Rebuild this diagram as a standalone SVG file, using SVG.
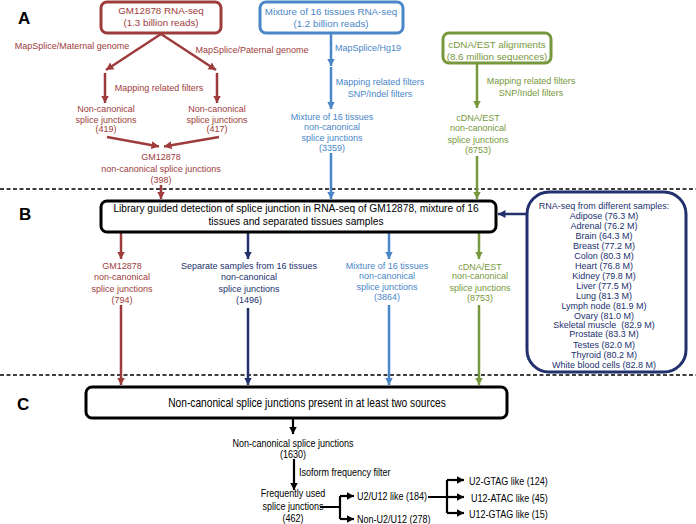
<svg xmlns="http://www.w3.org/2000/svg" width="696" height="524" viewBox="0 0 696 524">
<defs>
<style>
text{font-family:"Liberation Sans",Arial,sans-serif;}
.r{fill:#9e3c3c}.b{fill:#4a86c8}.g{fill:#77983c}.n{fill:#22306e}.k{fill:#000}
.t9{font-size:9px}.t10{font-size:9.8px}
.m{text-anchor:middle}
.lbl{font-size:17px;font-weight:bold;fill:#000}
.box{fill:#fff;stroke-width:3}
.cr{stroke:#9e3c3c;fill:none;stroke-width:2.5}
.cb{stroke:#4a86c8;fill:none;stroke-width:2.5}
.cg{stroke:#77983c;fill:none;stroke-width:2.5}
.cn{stroke:#22306e;fill:none;stroke-width:2.5}
.ck{stroke:#000;fill:none;stroke-width:2.2}
.dash{stroke:#000;stroke-width:1.4;stroke-dasharray:4 2.5;fill:none}
.cond{font-size:10.6px;fill:#000}
</style>
<marker id="ar" markerUnits="userSpaceOnUse" markerWidth="9" markerHeight="9" refX="7.5" refY="4.5" orient="auto"><path d="M0,0.5 L7.5,4.5 L0,8.5 z" fill="#9e3c3c"/></marker>
<marker id="ab" markerUnits="userSpaceOnUse" markerWidth="9" markerHeight="9" refX="7.5" refY="4.5" orient="auto"><path d="M0,0.5 L7.5,4.5 L0,8.5 z" fill="#4a86c8"/></marker>
<marker id="ag" markerUnits="userSpaceOnUse" markerWidth="9" markerHeight="9" refX="7.5" refY="4.5" orient="auto"><path d="M0,0.5 L7.5,4.5 L0,8.5 z" fill="#77983c"/></marker>
<marker id="an" markerUnits="userSpaceOnUse" markerWidth="9" markerHeight="9" refX="7.5" refY="4.5" orient="auto"><path d="M0,0.5 L7.5,4.5 L0,8.5 z" fill="#22306e"/></marker>
<marker id="ak" markerUnits="userSpaceOnUse" markerWidth="9" markerHeight="9" refX="7.5" refY="4.5" orient="auto"><path d="M0,0.5 L7.5,4.5 L0,8.5 z" fill="#000"/></marker>
</defs>
<rect width="696" height="524" fill="#fff"/>

<g id="separators">
<line class="dash" x1="0" y1="189" x2="696" y2="189"/>
<line class="dash" x1="0" y1="375" x2="696" y2="375"/>
</g>

<g id="section-labels">
<text class="lbl" x="18" y="24">A</text>
<text class="lbl" x="19" y="220">B</text>
<text class="lbl" x="17" y="410">C</text>
</g>

<g id="connectors">
<line class="cr" x1="161" y1="34" x2="106" y2="70" marker-end="url(#ar)"/>
<line class="cr" x1="161" y1="34" x2="216" y2="70" marker-end="url(#ar)"/>
<line class="cr" x1="105" y1="73" x2="105" y2="103" marker-end="url(#ar)"/>
<line class="cr" x1="217" y1="73" x2="217" y2="103" marker-end="url(#ar)"/>
<line class="cr" x1="107" y1="137" x2="159" y2="146.5" marker-end="url(#ar)"/>
<line class="cr" x1="219" y1="137" x2="164" y2="146.5" marker-end="url(#ar)"/>
<line class="cr" x1="161" y1="185" x2="161" y2="199" marker-end="url(#ar)"/>
<line class="cb" x1="331" y1="34" x2="331" y2="66" marker-end="url(#ab)"/>
<line class="cb" x1="331" y1="67" x2="331" y2="109" marker-end="url(#ab)"/>
<line class="cb" x1="331" y1="153" x2="331" y2="199" marker-end="url(#ab)"/>
<line class="cg" x1="477" y1="64" x2="477" y2="108" marker-end="url(#ag)"/>
<line class="cg" x1="477" y1="156" x2="477" y2="199" marker-end="url(#ag)"/>
<line class="cn" x1="527" y1="214" x2="498" y2="214" marker-end="url(#an)"/>
<line class="cr" x1="121" y1="233" x2="121" y2="259" marker-end="url(#ar)"/>
<line class="cn" x1="248" y1="233" x2="248" y2="259" marker-end="url(#an)"/>
<line class="cb" x1="389" y1="233" x2="389" y2="259" marker-end="url(#ab)"/>
<line class="cg" x1="479" y1="233" x2="479" y2="259" marker-end="url(#ag)"/>
<line class="cr" x1="121" y1="305" x2="121" y2="385" marker-end="url(#ar)"/>
<line class="cn" x1="248" y1="308" x2="248" y2="385" marker-end="url(#an)"/>
<line class="cb" x1="389" y1="305" x2="389" y2="385" marker-end="url(#ab)"/>
<line class="cg" x1="479" y1="305" x2="479" y2="385" marker-end="url(#ag)"/>
<line class="ck" x1="293" y1="419" x2="293" y2="434" marker-end="url(#ak)"/>
<line class="ck" x1="294" y1="459" x2="294" y2="490" marker-end="url(#ak)"/>
<path class="ck" d="M320,507 H340 M340,496 V519"/>
<line class="ck" x1="340" y1="496" x2="354" y2="496" marker-end="url(#ak)"/>
<line class="ck" x1="340" y1="519" x2="354" y2="519" marker-end="url(#ak)"/>
<path class="ck" d="M428,497 H447 M447,480 V513"/>
<line class="ck" x1="447" y1="480" x2="464" y2="480" marker-end="url(#ak)"/>
<line class="ck" x1="447" y1="497" x2="464" y2="497" marker-end="url(#ak)"/>
<line class="ck" x1="447" y1="513" x2="464" y2="513" marker-end="url(#ak)"/>
</g>

<g id="gm12878-rnaseq">
<rect class="box" x="101" y="2" width="120" height="31" rx="6" stroke="#9e3c3c"/>
<text class="r t10 m" x="161" y="13.5">GM12878 RNA-seq</text>
<text class="r t10 m" x="161" y="25.5">(1.3 billion reads)</text>
</g>
<g id="gm-edge-labels">
<text class="r t9 m" x="72" y="49">MapSplice/Maternal genome</text>
<text class="r t9 m" x="252" y="53">MapSplice/Paternal genome</text>
<text class="r t9 m" x="159" y="91">Mapping related filters</text>
</g>
<g id="maternal-junctions">
<text class="r t9 m" x="106" y="111.5">Non-canonical</text>
<text class="r t9 m" x="106" y="123">splice junctions</text>
<text class="r t9 m" x="106" y="132">(419)</text>
</g>
<g id="paternal-junctions">
<text class="r t9 m" x="217" y="111.5">Non-canonical</text>
<text class="r t9 m" x="217" y="123">splice junctions</text>
<text class="r t9 m" x="217" y="132">(417)</text>
</g>
<g id="gm-junctions">
<text class="r t9 m" x="161" y="160">GM12878</text>
<text class="r t9 m" x="161" y="171.5">non-canonical splice junctions</text>
<text class="r t9 m" x="161" y="182.5">(398)</text>
</g>

<g id="mixture-rnaseq">
<rect class="box" x="260" y="2" width="143" height="31" rx="6" stroke="#4a86c8"/>
<text class="b t10 m" x="331" y="15">Mixture of 16 tissues RNA-seq</text>
<text class="b t10 m" x="331" y="27">(1.2 billion reads)</text>
</g>
<g id="mixture-edge-labels">
<text class="b t9" x="335" y="51">MapSplice/Hg19</text>
<text class="b t9 m" x="380" y="85">Mapping related filters</text>
<text class="b t9 m" x="380" y="97">SNP/Indel filters</text>
</g>
<g id="mixture-junctions">
<text class="b t9 m" x="332" y="120">Mixture of 16 tissues</text>
<text class="b t9 m" x="332" y="129.5">non-canonical</text>
<text class="b t9 m" x="332" y="141">splice junctions</text>
<text class="b t9 m" x="332" y="150.5">(3359)</text>
</g>

<g id="cdna-est">
<rect class="box" x="443" y="33" width="108" height="30" rx="6" stroke="#77983c"/>
<text class="g t10 m" x="497" y="47.5">cDNA/EST alignments</text>
<text class="g t10 m" x="497" y="60">(8.6 million sequences)</text>
</g>
<g id="cdna-edge-labels">
<text class="g t9 m" x="531" y="84">Mapping related filters</text>
<text class="g t9 m" x="531" y="95.5">SNP/Indel filters</text>
</g>
<g id="cdna-junctions">
<text class="g t9 m" x="478" y="120.5">cDNA/EST</text>
<text class="g t9 m" x="478" y="131">non-canonical</text>
<text class="g t9 m" x="478" y="142.5">splice junctions</text>
<text class="g t9 m" x="478" y="153">(8753)</text>
</g>

<g id="library-guided">
<rect class="box" x="101" y="201" width="395" height="31" rx="6" stroke="#000"/>
<text class="k m" style="font-size:10.2px" x="296" y="212">Library guided detection of splice junction in RNA-seq of GM12878, mixture of 16</text>
<text class="k m" style="font-size:10.2px" x="296" y="225">tissues and separated tissues samples</text>
</g>

<g id="rnaseq-samples">
<rect class="box" x="527" y="192" width="159" height="180" rx="22" stroke="#22306e"/>
<g class="n t9 m">
<text x="604" y="208.5">RNA-seq from different samples:</text>
<text x="604" y="219">Adipose (76.3 M)</text>
<text x="604" y="229">Adrenal (76.2 M)</text>
<text x="604" y="239">Brain (64.3 M)</text>
<text x="604" y="249">Breast (77.2 M)</text>
<text x="604" y="259">Colon (80.3 M)</text>
<text x="604" y="269">Heart (76.8 M)</text>
<text x="604" y="279">Kidney (79.8 M)</text>
<text x="604" y="289">Liver (77.5 M)</text>
<text x="604" y="299">Lung (81.3 M)</text>
<text x="604" y="308.5">Lymph node (81.9 M)</text>
<text x="604" y="318.5">Ovary (81.0 M)</text>
<text x="604" y="328" style="white-space:pre">Skeletal muscle  (82.9 M)</text>
<text x="604" y="337">Prostate (83.3 M)</text>
<text x="604" y="348">Testes (82.0 M)</text>
<text x="604" y="358">Thyroid (80.2 M)</text>
<text x="604" y="368">White blood cells (82.8 M)</text>
</g>
</g>

<g id="b-gm-junctions">
<text class="r t9 m" x="122" y="269">GM12878</text>
<text class="r t9 m" x="122" y="280">non-canonical</text>
<text class="r t9 m" x="122" y="291.5">splice junctions</text>
<text class="r t9 m" x="122" y="303">(794)</text>
</g>
<g id="b-separate-junctions">
<text class="n t9 m" x="249" y="269">Separate samples from 16 tissues</text>
<text class="n t9 m" x="249" y="280">non-canonical</text>
<text class="n t9 m" x="249" y="291.5">splice junctions</text>
<text class="n t9 m" x="249" y="303">(1496)</text>
</g>
<g id="b-mixture-junctions">
<text class="b t9 m" x="387" y="269">Mixture of 16 tissues</text>
<text class="b t9 m" x="387" y="278.5">non-canonical</text>
<text class="b t9 m" x="387" y="290">splice junctions</text>
<text class="b t9 m" x="387" y="299.5">(3864)</text>
</g>
<g id="b-cdna-junctions">
<text class="g t9 m" x="480" y="270">cDNA/EST</text>
<text class="g t9 m" x="480" y="279">non-canonical</text>
<text class="g t9 m" x="480" y="290.5">splice junctions</text>
<text class="g t9 m" x="480" y="300.5">(8753)</text>
</g>

<g id="two-sources">
<rect class="box" x="86" y="387" width="421" height="31" rx="6" stroke="#000"/>
<text class="k m" style="font-size:12px" transform="translate(307,407) scale(0.85,1)">Non-canonical splice junctions present in at least two sources</text>
</g>
<g id="nc-1630">
<text class="cond m" transform="translate(293,446.5) scale(0.85,1)">Non-canonical splice junctions</text>
<text class="cond m" transform="translate(293,457.5) scale(0.85,1)">(1630)</text>
</g>
<g id="isoform-label">
<text class="cond" transform="translate(299,475.5) scale(0.85,1)">Isoform frequency filter</text>
</g>
<g id="frequently-used">
<text class="cond m" transform="translate(293,497) scale(0.85,1)">Frequently used</text>
<text class="cond m" transform="translate(293,509.5) scale(0.85,1)">splice junctions</text>
<text class="cond m" transform="translate(293,522) scale(0.85,1)">(462)</text>
</g>
<g id="u2-u12">
<text class="cond" transform="translate(357,500) scale(0.85,1)">U2/U12 like (184)</text>
</g>
<g id="non-u2-u12">
<text class="cond" transform="translate(357,523) scale(0.85,1)">Non-U2/U12 (278)</text>
</g>
<g id="u2-gtag">
<text class="cond" transform="translate(469,484.5) scale(0.85,1)">U2-GTAG like (124)</text>
</g>
<g id="u12-atac">
<text class="cond" transform="translate(471,501.5) scale(0.85,1)">U12-ATAC like (45)</text>
</g>
<g id="u12-gtag">
<text class="cond" transform="translate(469,517.5) scale(0.85,1)">U12-GTAG like (15)</text>
</g>
</svg>
